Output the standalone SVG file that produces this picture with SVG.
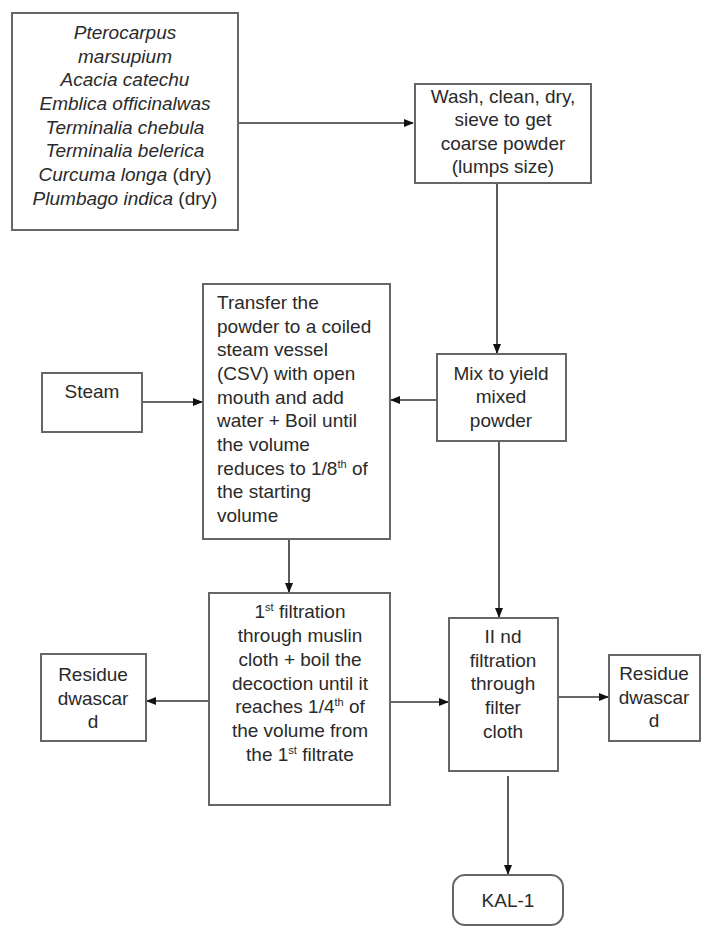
<svg xmlns="http://www.w3.org/2000/svg" width="709" height="935" viewBox="0 0 709 935">
<defs>
<marker id="arr" markerWidth="10" markerHeight="10" refX="9" refY="5" orient="auto" markerUnits="userSpaceOnUse">
<path d="M0,1 L10,5 L0,9 Z" fill="#111"/>
</marker>
<style>
.box{fill:#fff;stroke:#666;stroke-width:2}
.t{font-family:"Liberation Sans",Arial,sans-serif;font-size:19px;fill:#2a2a2a}
.c{text-anchor:middle}
.i{font-style:italic}
.ln{fill:none;stroke:#333;stroke-width:1.6}
.sup{font-size:11px}
</style>
</defs>
<rect width="709" height="935" fill="#fff"/>
<g id="connectors">
<line class="ln" x1="238" y1="123" x2="413" y2="123" marker-end="url(#arr)"/>
<line class="ln" x1="497" y1="184" x2="497" y2="353" marker-end="url(#arr)"/>
<line class="ln" x1="437" y1="400" x2="391" y2="400" marker-end="url(#arr)"/>
<line class="ln" x1="142" y1="402" x2="202" y2="402" marker-end="url(#arr)"/>
<line class="ln" x1="289" y1="540" x2="289" y2="592" marker-end="url(#arr)"/>
<line class="ln" x1="499" y1="442" x2="499" y2="617" marker-end="url(#arr)"/>
<line class="ln" x1="209" y1="701" x2="147" y2="701" marker-end="url(#arr)"/>
<line class="ln" x1="390" y1="702" x2="448" y2="702" marker-end="url(#arr)"/>
<line class="ln" x1="558" y1="697" x2="608" y2="697" marker-end="url(#arr)"/>
<line class="ln" x1="508" y1="776" x2="508" y2="874" marker-end="url(#arr)"/>
</g>
<g id="plants">
<rect class="box" x="12" y="13" width="226" height="217"/>
<text class="t c i" x="125" y="39">Pterocarpus</text>
<text class="t c i" x="125" y="63">marsupium</text>
<text class="t c i" x="125" y="86">Acacia catechu</text>
<text class="t c i" x="125" y="110">Emblica officinalwas</text>
<text class="t c i" x="125" y="134">Terminalia chebula</text>
<text class="t c i" x="125" y="157">Terminalia belerica</text>
<text class="t c" x="125" y="181"><tspan font-style="italic">Curcuma longa</tspan> (dry)</text>
<text class="t c" x="125" y="205"><tspan font-style="italic">Plumbago indica</tspan> (dry)</text>
</g>
<g id="wash">
<rect class="box" x="415" y="84" width="176" height="99"/>
<text class="t c" x="503" y="103">Wash, clean, dry,</text>
<text class="t c" x="503" y="126">sieve to get</text>
<text class="t c" x="503" y="150">coarse powder</text>
<text class="t c" x="503" y="173">(lumps size)</text>
</g>
<g id="mix">
<rect class="box" x="437" y="354" width="129" height="87"/>
<text class="t c" x="501" y="380">Mix to yield</text>
<text class="t c" x="501" y="403">mixed</text>
<text class="t c" x="501" y="427">powder</text>
</g>
<g id="steam">
<rect class="box" x="42" y="373" width="100" height="59"/>
<text class="t c" x="92" y="398">Steam</text>
</g>
<g id="transfer">
<rect class="box" x="203" y="284" width="187" height="255"/>
<text class="t" x="217" y="309">Transfer the</text>
<text class="t" x="217" y="333">powder to a coiled</text>
<text class="t" x="217" y="356">steam vessel</text>
<text class="t" x="217" y="380">(CSV) with open</text>
<text class="t" x="217" y="404">mouth and add</text>
<text class="t" x="217" y="427">water + Boil until</text>
<text class="t" x="217" y="451">the volume</text>
<text class="t" x="217" y="475">reduces to 1/8<tspan class="sup" dy="-7">th</tspan><tspan dy="7"> of</tspan></text>
<text class="t" x="217" y="498">the starting</text>
<text class="t" x="217" y="522">volume</text>
</g>
<g id="filtration1">
<rect class="box" x="209" y="593" width="181" height="212"/>
<text class="t c" x="300" y="618">1<tspan class="sup" dy="-7">st</tspan><tspan dy="7"> filtration</tspan></text>
<text class="t c" x="300" y="642">through muslin</text>
<text class="t c" x="300" y="666">cloth + boil the</text>
<text class="t c" x="300" y="690">decoction until it</text>
<text class="t c" x="300" y="713">reaches 1/4<tspan class="sup" dy="-7">th</tspan><tspan dy="7"> of</tspan></text>
<text class="t c" x="300" y="737">the volume from</text>
<text class="t c" x="300" y="761">the 1<tspan class="sup" dy="-7">st</tspan><tspan dy="7"> filtrate</tspan></text>
</g>
<g id="residue-left">
<rect class="box" x="41" y="654" width="105" height="87"/>
<text class="t c" x="93" y="681">Residue</text>
<text class="t c" x="93" y="705">dwascar</text>
<text class="t c" x="93" y="728">d</text>
</g>
<g id="filtration2">
<rect class="box" x="449" y="618" width="109" height="153"/>
<text class="t c" x="503" y="643">II nd</text>
<text class="t c" x="503" y="667">filtration</text>
<text class="t c" x="503" y="690">through</text>
<text class="t c" x="503" y="714">filter</text>
<text class="t c" x="503" y="738">cloth</text>
</g>
<g id="residue-right">
<rect class="box" x="609" y="655" width="91" height="86"/>
<text class="t c" x="654" y="680">Residue</text>
<text class="t c" x="654" y="704">dwascar</text>
<text class="t c" x="654" y="727">d</text>
</g>
<g id="kal1">
<rect class="box" x="453" y="875" width="110" height="50" rx="12"/>
<text class="t c" x="508" y="907">KAL-1</text>
</g>
</svg>
